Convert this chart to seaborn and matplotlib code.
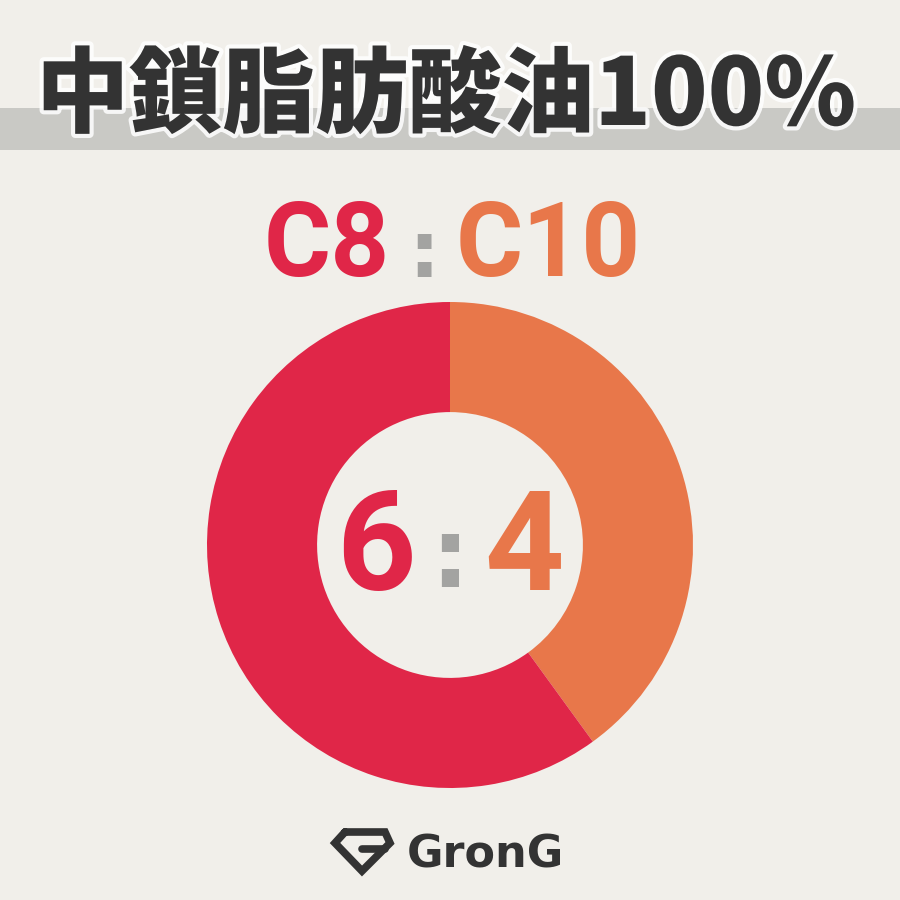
import matplotlib
matplotlib.use("Agg")
import matplotlib.pyplot as plt
import matplotlib.patheffects as pe
from matplotlib.patches import Rectangle
from matplotlib.lines import Line2D
import seaborn as sns

# データ
title = "中鎖脂肪酸油100%"
chains = ["C8", "C10"]
ratio = [6, 4]
brand = "GronG"

sns.set_theme(style="white")
plt.rcParams['font.family'] = ['Noto Sans CJK JP', 'DejaVu Sans']

RED = "#e02648"
ORANGE = "#e8774a"
GREY = "#a3a3a1"
DARK = "#333333"
BG = "#f1efea"

fig = plt.figure(figsize=(9, 9), dpi=100, facecolor=BG)


def fy(y):
    # 上からのピクセル -> figure 座標
    return 1 - y / 900


# グレーの帯
fig.patches.append(Rectangle((0, fy(150)), 1, 42 / 900, transform=fig.transFigure,
                             facecolor="#c9c9c5", edgecolor="none", zorder=0))

# タイトル
fig.text(446 / 900, fy(125), title, ha="center", va="baseline", fontsize=67,
         fontweight="black", color=DARK, family=['Noto Sans CJK JP', 'DejaVu Sans'],
         path_effects=[pe.withStroke(linewidth=6, foreground="white", alpha=0.85)])

num = ['Roboto', 'DejaVu Sans']
colon = ['DejaVu Sans']

# C8 : C10
fig.text(390 / 900, fy(276), chains[0], ha="right", va="baseline", fontsize=74,
         fontweight="bold", color=RED, family=num)
fig.text(424 / 900, fy(277), ":", ha="center", va="baseline", fontsize=56,
         fontweight="bold", color=GREY, family=colon)
fig.text(456 / 900, fy(276), chains[1], ha="left", va="baseline", fontsize=74,
         fontweight="bold", color=ORANGE, family=num)

# ドーナツ
ax = fig.add_axes([207 / 900, fy(788), 486 / 900, 486 / 900])
ax.set_facecolor("none")
ax.pie(ratio[::-1], labels=None, colors=[ORANGE, RED], startangle=90,
       counterclock=False, wedgeprops=dict(width=0.453, edgecolor="none"))
ax.set_xlim(-1, 1)
ax.set_ylim(-1, 1)
ax.set_aspect("equal")
ax.axis("off")

# 中央の 6 : 4
fig.text(376 / 900, fy(590), str(ratio[0]), ha="center", va="baseline", fontsize=100,
         fontweight="bold", color=RED, family=num)
fig.text(450 / 900, fy(587), ":", ha="center", va="baseline", fontsize=70,
         fontweight="bold", color=GREY, family=colon)
fig.text(524 / 900, fy(590), str(ratio[1]), ha="center", va="baseline", fontsize=100,
         fontweight="bold", color=ORANGE, family=num)

# ロゴ
gem = [(345, 832), (385, 832), (390, 843), (362, 871), (335, 843), (345, 832)]
fig.lines.append(Line2D([p[0] / 900 for p in gem], [fy(p[1]) for p in gem],
                        transform=fig.transFigure, color=DARK, lw=5.5,
                        solid_joinstyle="miter"))
fig.lines.append(Line2D([362 / 900, 385 / 900], [fy(849), fy(849)],
                        transform=fig.transFigure, color=DARK, lw=5.5))
fig.text(485 / 900, fy(868), brand, ha="center", va="baseline", fontsize=32,
         fontweight="bold", color=DARK, family=['DejaVu Sans'])

fig.savefig("out.png", dpi=100, facecolor=BG)
